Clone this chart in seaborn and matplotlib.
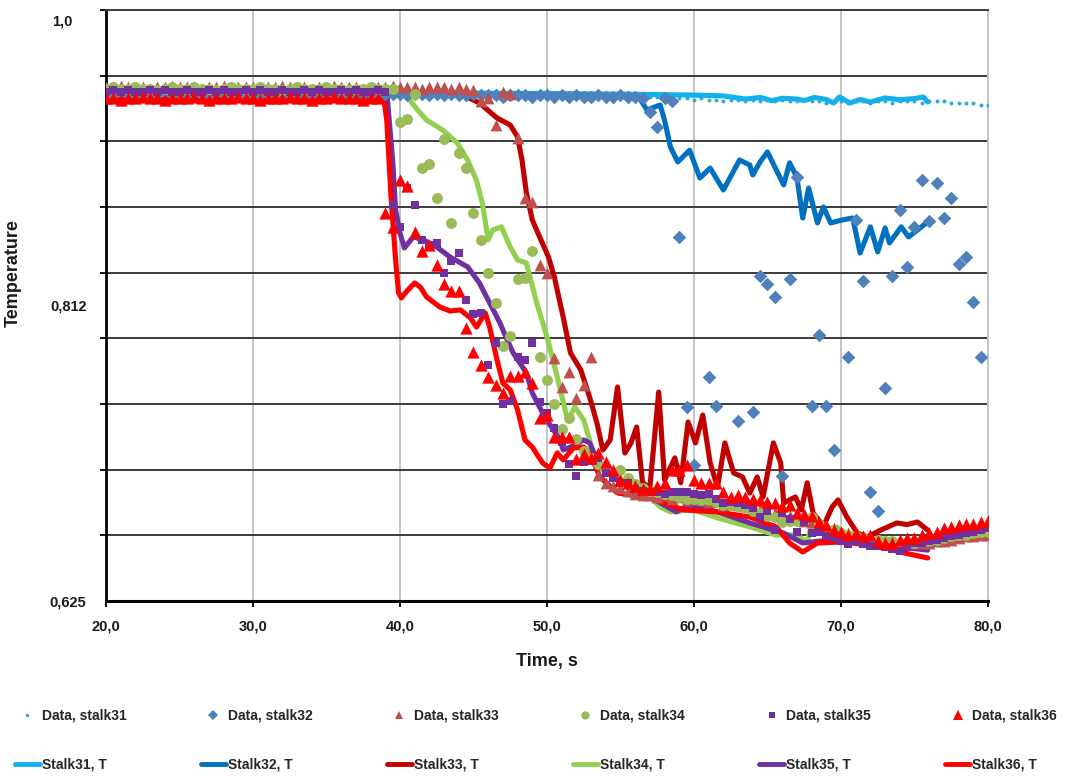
import numpy as np
import matplotlib
matplotlib.use("Agg")
import matplotlib.pyplot as plt
from matplotlib.lines import Line2D
from matplotlib.ticker import FixedLocator
import seaborn as sns

# ---------------------------------------------------------------------------
# Measured temperatures (dimensionless), sampled every 0.5 s from t = 20 s
# ---------------------------------------------------------------------------
T_START, T_STEP = 20.0, 0.5

data31 = [
    0.948, 0.949, 0.948, 0.948, 0.949, 0.948, 0.948, 0.947, 0.948, 0.949,
    0.948, 0.948, 0.949, 0.948, 0.947, 0.948, 0.948, 0.949, 0.948, 0.948,
    0.948, 0.949, 0.948, 0.948, 0.947, 0.948, 0.949, 0.948, 0.948, 0.948,
    0.949, 0.948, 0.948, 0.947, 0.948, 0.948, 0.949, 0.948, 0.948, 0.948,
    0.948, 0.947, 0.948, 0.948, 0.947, 0.948, 0.947, 0.948, 0.947, 0.947,
    0.948, 0.947, 0.947, 0.948, 0.947, 0.947, 0.947, 0.948, 0.947, 0.947,
    0.947, 0.947, 0.946, 0.947, 0.947, 0.946, 0.947, 0.946, 0.946, 0.947,
    0.946, 0.946, 0.945, 0.946, 0.945, 0.945, 0.944, 0.945, 0.944, 0.944,
    0.943, 0.944, 0.943, 0.943, 0.942, 0.943, 0.943, 0.942, 0.943, 0.942,
    0.943, 0.942, 0.943, 0.942, 0.942, 0.943, 0.942, 0.942, 0.941, 0.942,
    0.942, 0.941, 0.942, 0.942, 0.941, 0.942, 0.942, 0.941, 0.942, 0.942,
    0.942, 0.941, 0.942, 0.942, 0.942, 0.941, 0.941, 0.941, 0.941, 0.940,
    0.940,
]

nan = float("nan")
data32 = [
    0.947, 0.947, 0.948, 0.947, 0.947, 0.946, 0.947, 0.947, 0.948, 0.947,
    0.947, 0.947, 0.946, 0.947, 0.947, 0.948, 0.947, 0.947, 0.947, 0.946,
    0.947, 0.947, 0.947, 0.948, 0.947, 0.946, 0.947, 0.947, 0.947, 0.947,
    0.948, 0.947, 0.947, 0.946, 0.947, 0.947, 0.947, 0.948, 0.947, 0.947,
    0.947, 0.946, 0.947, 0.947, 0.946, 0.947, 0.946, 0.947, 0.946, 0.946,
    0.947, 0.946, 0.946, 0.946, 0.945, 0.946, 0.946, 0.946, 0.945, 0.946,
    0.946, 0.945, 0.946, 0.945, 0.946, 0.945, 0.945, 0.946, 0.945, 0.945,
    0.946, 0.945, 0.945, 0.944, 0.935, 0.926, 0.944, 0.942, 0.856, 0.748,
    0.711, nan, 0.767, 0.749, nan, nan, 0.739, nan, 0.745, 0.831,
    0.826, 0.818, 0.704, 0.829, 0.894, nan, 0.749, 0.794, 0.749, 0.721,
    nan, 0.780, 0.867, 0.828, 0.694, 0.682, 0.760, 0.831, 0.873, 0.837,
    0.862, 0.892, 0.866, 0.890, 0.868, 0.881, 0.839, 0.843, 0.815, 0.780,
    nan,
]

data33 = [
    0.951, 0.951, 0.952, 0.951, 0.951, 0.951, 0.950, 0.951, 0.951, 0.952,
    0.951, 0.951, 0.951, 0.950, 0.951, 0.951, 0.952, 0.951, 0.951, 0.951,
    0.951, 0.950, 0.951, 0.951, 0.952, 0.951, 0.951, 0.951, 0.950, 0.951,
    0.951, 0.952, 0.951, 0.951, 0.951, 0.950, 0.951, 0.951, 0.951, 0.952,
    0.951, 0.951, 0.951, 0.950, 0.951, 0.951, 0.951, 0.950, 0.951, 0.950,
    0.949, 0.942, 0.944, 0.927, 0.948, 0.947, 0.919, 0.881, 0.878, 0.838,
    0.833, 0.779, 0.761, 0.770, 0.754, 0.762, 0.780, 0.705, 0.700, 0.698,
    0.697, 0.695, 0.693, 0.692, 0.692, 0.691, 0.692, 0.690, 0.691, 0.689,
    0.690, 0.689, 0.688, 0.689, 0.686, 0.687, 0.686, 0.685, 0.684, 0.683,
    0.682, 0.681, 0.680, 0.679, 0.678, 0.676, 0.675, 0.674, 0.673, 0.671,
    0.669, 0.668, 0.667, 0.665, 0.664, 0.663, 0.663, 0.662, 0.662, 0.662,
    0.662, 0.662, 0.662, 0.663, 0.663, 0.664, 0.665, 0.666, 0.666, 0.667,
    0.667,
]

data34 = [
    0.950, 0.951, 0.950, 0.950, 0.951, 0.950, 0.950, 0.949, 0.950, 0.951,
    0.950, 0.950, 0.951, 0.950, 0.950, 0.949, 0.950, 0.951, 0.950, 0.950,
    0.950, 0.951, 0.950, 0.950, 0.949, 0.950, 0.951, 0.950, 0.950, 0.950,
    0.951, 0.950, 0.950, 0.949, 0.950, 0.950, 0.951, 0.950, 0.950, 0.950,
    0.929, 0.931, 0.947, 0.900, 0.902, 0.881, 0.918, 0.865, 0.909, 0.900,
    0.871, 0.854, 0.833, 0.814, 0.787, 0.793, 0.829, 0.830, 0.847, 0.780,
    0.765, 0.750, 0.734, 0.741, 0.728, 0.720, 0.716, 0.712, 0.709, 0.706,
    0.708, 0.703, 0.699, 0.697, 0.695, 0.694, 0.693, 0.692, 0.691, 0.690,
    0.690, 0.689, 0.689, 0.688, 0.686, 0.686, 0.685, 0.684, 0.682, 0.681,
    0.679, 0.678, 0.675, 0.676, 0.676, 0.677, 0.678, 0.674, 0.670, 0.670,
    0.668, 0.667, 0.666, 0.665, 0.664, 0.664, 0.663, 0.663, 0.662, 0.662,
    0.662, 0.663, 0.663, 0.664, 0.665, 0.666, 0.667, 0.667, 0.668, 0.669,
    0.669,
]

data35 = [
    0.948, 0.949, 0.948, 0.949, 0.948, 0.948, 0.949, 0.948, 0.949, 0.948,
    0.948, 0.949, 0.948, 0.948, 0.949, 0.948, 0.949, 0.948, 0.948, 0.949,
    0.948, 0.949, 0.948, 0.948, 0.949, 0.948, 0.948, 0.949, 0.948, 0.949,
    0.948, 0.948, 0.949, 0.948, 0.949, 0.948, 0.948, 0.949, 0.948, 0.876,
    0.862, 0.887, 0.876, 0.854, 0.851, 0.852, 0.833, 0.841, 0.846, 0.816,
    0.807, 0.808, 0.775, 0.789, 0.750, 0.752, 0.780, 0.778, 0.789, 0.751,
    0.744, 0.735, 0.726, 0.712, 0.704, 0.713, 0.714, 0.716, 0.706, 0.703,
    0.700, 0.700, 0.696, 0.695, 0.694, 0.694, 0.693, 0.694, 0.694, 0.694,
    0.693, 0.692, 0.693, 0.690, 0.687, 0.688, 0.687, 0.686, 0.684, 0.678,
    0.682, 0.670, 0.681, 0.677, 0.669, 0.675, 0.668, 0.669, 0.666, 0.665,
    0.663, 0.661, 0.664, 0.661, 0.660, 0.660, 0.659, 0.658, 0.657, 0.659,
    0.662, 0.662, 0.663, 0.664, 0.665, 0.666, 0.667, 0.668, 0.669, 0.670,
    0.671,
]

data36 = [
    0.944, 0.944, 0.943, 0.944, 0.944, 0.945, 0.944, 0.944, 0.943, 0.944,
    0.944, 0.944, 0.945, 0.944, 0.943, 0.944, 0.944, 0.944, 0.945, 0.944,
    0.944, 0.943, 0.944, 0.944, 0.944, 0.945, 0.944, 0.944, 0.943, 0.944,
    0.944, 0.945, 0.944, 0.944, 0.944, 0.943, 0.944, 0.944, 0.871, 0.862,
    0.892, 0.888, 0.859, 0.847, 0.851, 0.838, 0.826, 0.822, 0.822, 0.798,
    0.783, 0.775, 0.767, 0.762, 0.757, 0.768, 0.768, 0.770, 0.763, 0.741,
    0.743, 0.729, 0.729, 0.729, 0.715, 0.718, 0.716, 0.719, 0.713, 0.708,
    0.702, 0.700, 0.698, 0.696, 0.696, 0.698, 0.700, 0.708, 0.708, 0.711,
    0.702, 0.700, 0.700, 0.700, 0.694, 0.691, 0.692, 0.691, 0.690, 0.689,
    0.688, 0.687, 0.685, 0.686, 0.681, 0.680, 0.679, 0.675, 0.673, 0.670,
    0.669, 0.667, 0.668, 0.666, 0.667, 0.663, 0.662, 0.662, 0.664, 0.665,
    0.665, 0.667, 0.668, 0.669, 0.671, 0.672, 0.673, 0.674, 0.674, 0.675,
    0.676,
]

# ---------------------------------------------------------------------------
# Computed temperature histories (time in s, temperature)
# ---------------------------------------------------------------------------
calc31_t = [20.0, 30.0, 40.0, 50.0, 56.0, 60.0, 62.0, 63.5, 64.5, 65.3, 66.0,
            67.0, 67.5, 68.2, 69.0, 69.5, 69.9, 70.6, 71.3, 72.0, 73.0, 74.0,
            75.0, 75.6, 75.9]
calc31_T = [0.948, 0.948, 0.9475, 0.947, 0.9465, 0.946, 0.9455, 0.9435,
            0.9445, 0.9425, 0.944, 0.9435, 0.9425, 0.9445, 0.9432, 0.941,
            0.9448, 0.941, 0.9432, 0.9416, 0.9442, 0.943, 0.9438, 0.9448,
            0.9416]

calc32_t = [20.0, 30.0, 40.0, 50.0, 55.0, 56.3, 56.8, 57.2, 57.7, 58.0, 58.4,
            58.9, 59.7, 60.4, 61.1, 62.0, 63.1, 63.8, 64.0, 64.5, 65.0, 66.1,
            66.5, 67.0, 67.4, 67.8, 68.4, 68.8, 69.3, 70.1, 70.8, 71.3, 72.0,
            72.5, 73.0, 73.3, 74.1, 74.6, 75.9]
calc32_T = [0.947, 0.947, 0.9465, 0.946, 0.945, 0.944, 0.9365, 0.938, 0.9397,
            0.930, 0.913, 0.9036, 0.911, 0.8934, 0.8997, 0.8858, 0.9048,
            0.9016, 0.8953, 0.9036, 0.9099, 0.889, 0.903, 0.894, 0.868, 0.887,
            0.8649, 0.875, 0.8649, 0.8668, 0.868, 0.8458, 0.8624, 0.8465,
            0.8617, 0.8522, 0.8624, 0.856, 0.8655]

calc33_t = [20.0, 30.0, 40.0, 44.3, 45.4, 46.6, 47.5, 48.0, 48.3, 48.6, 49.0,
            49.5, 50.1, 50.5, 51.1, 51.6, 52.3, 52.9, 53.4, 53.8, 54.3, 54.8,
            55.3, 55.7, 56.1, 56.5, 57.0, 57.6, 58.0, 58.7, 59.1, 59.6, 60.1,
            60.6, 61.1, 61.6, 62.1, 62.7, 63.3, 63.8, 64.3, 64.7, 65.4, 65.9,
            66.1, 66.9, 67.3, 67.7, 68.1, 68.8, 69.4, 69.8, 70.4, 71.1, 71.8,
            72.7, 73.8, 74.5, 75.2, 75.9]
calc33_T = [0.9485, 0.9485, 0.948, 0.946, 0.941, 0.9315, 0.927, 0.9194,
            0.9048, 0.8839, 0.8668, 0.856, 0.8433, 0.8306, 0.8052, 0.7824,
            0.7716, 0.7544, 0.7379, 0.7208, 0.7272, 0.7608, 0.7189, 0.725,
            0.7354, 0.700, 0.697, 0.7576, 0.7018, 0.7158, 0.700, 0.7386,
            0.7253, 0.743, 0.7126, 0.6973, 0.7253, 0.7062, 0.7037, 0.6935,
            0.7037, 0.691, 0.7253, 0.7126, 0.6872, 0.691, 0.6828, 0.700,
            0.681, 0.6723, 0.6847, 0.6891, 0.6783, 0.6682, 0.6656, 0.670,
            0.6745, 0.6735, 0.6751, 0.670]

calc34_t = [20.0, 30.0, 40.0, 40.5, 41.2, 41.8, 42.9, 43.9, 44.6, 45.2, 45.6,
            46.0, 46.3, 46.9, 47.5, 48.0, 48.6, 49.3, 50.0, 50.7, 51.4, 51.9,
            52.5, 53.1, 53.8, 54.8, 56.5, 57.7, 58.4, 59.9, 61.6, 63.8, 65.6,
            67.0, 67.7, 68.1, 68.8, 69.7, 70.6, 72.9, 75.2, 75.9]
calc34_T = [0.949, 0.949, 0.9485, 0.9448, 0.9365, 0.9302, 0.9239, 0.9156,
            0.9048, 0.8921, 0.8776, 0.8541, 0.8604, 0.8624, 0.8496, 0.8414,
            0.8395, 0.8141, 0.7925, 0.7671, 0.7398, 0.7481, 0.7398, 0.7208,
            0.7081, 0.7037, 0.6955, 0.6847, 0.6815, 0.683, 0.6777, 0.672,
            0.6668, 0.667, 0.6618, 0.6783, 0.670, 0.672, 0.665, 0.6617,
            0.6637, 0.664]

calc35_t = [20.0, 30.0, 39.1, 39.5, 39.7, 40.0, 40.3, 40.9, 41.6, 42.5, 43.4,
            44.6, 45.4, 46.1, 46.8, 47.3, 47.7, 48.6, 49.0, 49.7, 50.3, 50.9,
            51.1, 51.6, 52.5, 52.9, 53.1, 53.6, 54.8, 57.0, 58.8, 59.7, 61.6,
            63.8, 66.1, 67.4, 69.3, 71.8, 74.0, 75.9]
calc35_T = [0.948, 0.948, 0.948, 0.9048, 0.8731, 0.8585, 0.849, 0.856,
            0.8541, 0.8496, 0.8433, 0.837, 0.8268, 0.8141, 0.8014, 0.7906,
            0.7824, 0.7697, 0.757, 0.7443, 0.7354, 0.7272, 0.7208, 0.7227,
            0.7272, 0.7253, 0.7208, 0.711, 0.7018, 0.691, 0.6815, 0.6859,
            0.6815, 0.6745, 0.6681, 0.6618, 0.6637, 0.6605, 0.6592, 0.6573]

calc36_t = [20.0, 30.0, 38.9, 39.1, 39.4, 39.7, 39.9, 40.1, 40.5, 41.0, 41.4,
            41.8, 42.7, 43.4, 44.1, 44.8, 45.2, 45.8, 46.1, 46.6, 47.0, 47.5,
            48.0, 48.5, 49.0, 49.7, 50.2, 50.7, 51.1, 51.8, 52.5, 52.9, 53.6,
            54.8, 57.0, 59.3, 61.6, 63.8, 65.6, 66.5, 67.4, 68.4, 69.9, 71.8,
            74.0, 75.9]
calc36_T = [0.9435, 0.9435, 0.9435, 0.930, 0.880, 0.8415, 0.8205, 0.8173,
            0.822, 0.8268, 0.824, 0.818, 0.8116, 0.809, 0.8097, 0.8046,
            0.7988, 0.8078, 0.7988, 0.7779, 0.7633, 0.7589, 0.7462, 0.7272,
            0.7227, 0.7126, 0.7094, 0.719, 0.7145, 0.7221, 0.7227, 0.719,
            0.7037, 0.6935, 0.6904, 0.6828, 0.6815, 0.6783, 0.672, 0.6618,
            0.6561, 0.6618, 0.6624, 0.662, 0.6561, 0.6523]

data_labels = ["Data, stalk31", "Data, stalk32", "Data, stalk33",
               "Data, stalk34", "Data, stalk35", "Data, stalk36"]
calc_labels = ["Stalk31, T", "Stalk32, T", "Stalk33, T",
               "Stalk34, T", "Stalk35, T", "Stalk36, T"]
x_ticks = [20, 30, 40, 50, 60, 70, 80]
y_ticks = [0.625, 0.8125]
y_tick_labels = ["0,625", "0,812"]
y_top, y_top_label = 1.0, "1,0"

# ---------------------------------------------------------------------------
# Styling
# ---------------------------------------------------------------------------
sns.set_theme(style="white")
plt.rcParams["font.family"] = ["Liberation Sans", "DejaVu Sans"]
plt.rcParams["font.weight"] = "bold"

data_series = [data31, data32, data33, data34, data35, data36]
calc_series = [(calc31_t, calc31_T), (calc32_t, calc32_T), (calc33_t, calc33_T),
               (calc34_t, calc34_T), (calc35_t, calc35_T), (calc36_t, calc36_T)]
data_colors = ["#2AAAE1", "#4F81BD", "#C0504D", "#9BBB59", "#7030A0", "#FF0000"]
calc_colors = ["#11B2EC", "#0070C0", "#C00000", "#92D050", "#7030A0", "#FF0000"]
data_markers = ["o", "D", "^", "o", "s", "^"]
data_sizes = [8, 48, 72, 62, 28, 78]
legend_msize = [2.5, 5.5, 6, 6, 5, 6.5]

fig = plt.figure(figsize=(10.74, 7.80), dpi=100)
ax = fig.add_axes([0.0987, 0.2295, 0.8212, 0.7577])

# computed curves underneath the measured points
for (ct, cT), col in zip(calc_series, calc_colors):
    sns.lineplot(x=ct, y=cT, ax=ax, color=col, linewidth=3.7, sort=False,
                 estimator=None, legend=False, zorder=3,
                 solid_joinstyle="round", solid_capstyle="round")

for vals, col, mk, sz in zip(data_series, data_colors, data_markers, data_sizes):
    times = T_START + T_STEP * np.arange(len(vals))
    sns.scatterplot(x=times, y=vals, ax=ax, color=col, marker=mk, s=sz,
                    linewidth=0, legend=False, zorder=4)

# axes, ticks and grid
ax.set_xlim(20, 80)
ax.set_ylim(0.625, y_top)
ax.set_xticks(x_ticks)
ax.set_xticklabels([f"{v:.1f}".replace(".", ",") for v in x_ticks],
                   fontsize=10.5, fontweight="bold")
ax.set_yticks(y_ticks)
ax.set_yticklabels(y_tick_labels, fontsize=10.5, fontweight="bold")
ax.yaxis.set_minor_locator(FixedLocator(np.linspace(0.625, 1.0, 10)))
# top value label sits a little below and left of the axis corner
ax.annotate(y_top_label, xy=(0, y_top), xycoords=("axes fraction", "data"),
            xytext=(-24, -8), textcoords="offset points", ha="right",
            va="center", fontsize=10.5, fontweight="bold", color="#1a1a1a")

ax.grid(False)
ax.grid(which="minor", axis="y", color="#3c3c3c", linewidth=1.4, zorder=1)
ax.grid(which="major", axis="x", color="#c4c4c4", linewidth=1.4, zorder=1)
ax.set_axisbelow(True)

ax.tick_params(axis="y", which="major", length=0, pad=14, colors="#1a1a1a")
ax.tick_params(axis="y", which="minor", length=4, width=1.3, color="black",
               direction="out", left=True)
ax.tick_params(axis="x", which="major", length=4, width=1.3, color="black",
               direction="out", bottom=True, pad=9, colors="#1a1a1a")

for side, col, lw in [("left", "black", 2.0), ("bottom", "black", 2.2),
                      ("top", "#3c3c3c", 1.4), ("right", "#c4c4c4", 1.4)]:
    ax.spines[side].set_visible(True)
    ax.spines[side].set_color(col)
    ax.spines[side].set_linewidth(lw)

ax.set_xlabel("Time, s", fontsize=13, fontweight="bold", color="#1a1a1a")
ax.xaxis.set_label_coords(0.5, -0.088)
ax.set_ylabel("Temperature", fontsize=13, fontweight="bold", color="#1a1a1a")
ax.yaxis.set_label_coords(-0.095, 0.555)

# legend: measured points on the first row, computed curves on the second
handles, labels = [], []
for i in range(6):
    handles.append(Line2D([], [], linestyle="none", marker=data_markers[i],
                          markersize=legend_msize[i], color=data_colors[i],
                          markeredgewidth=0))
    labels.append(data_labels[i])
    handles.append(Line2D([], [], color=calc_colors[i], linewidth=3.5,
                          solid_capstyle="round"))
    labels.append(calc_labels[i])

fig.legend(handles, labels, loc="center left", bbox_to_anchor=(0.002, 0.051),
           ncol=6, frameon=False, handlelength=1.8, handletextpad=0.15,
           columnspacing=5.35, labelspacing=2.55,
           prop={"size": 10, "weight": "bold"})

fig.savefig("out.png", dpi=100)
